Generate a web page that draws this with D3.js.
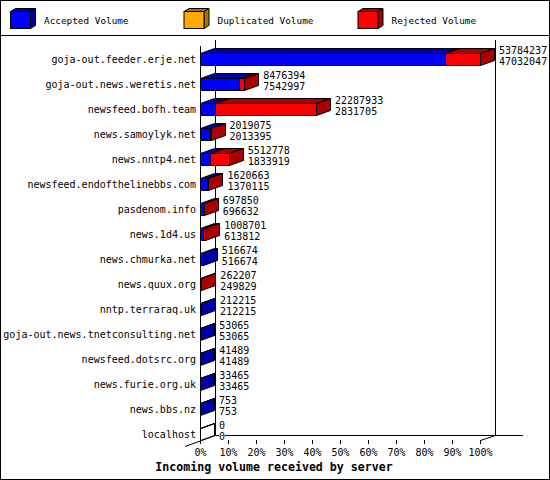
<!DOCTYPE html>
<html>
<head>
<meta charset="utf-8">
<script src="https://cdn.jsdelivr.net/npm/d3@7"></script>
<style>
  html, body { margin: 0; padding: 0; background: #fff; }
  svg { display: block; }
  text { font-family: "DejaVu Sans Mono", "Liberation Mono", monospace; fill: #000; }
</style>
</head>
<body>
<svg id="chart" width="550" height="480"></svg>
<script>
// ---- data ----
const categories = [
  "goja-out.feeder.erje.net",
  "goja-out.news.weretis.net",
  "newsfeed.bofh.team",
  "news.samoylyk.net",
  "news.nntp4.net",
  "newsfeed.endofthelinebbs.com",
  "pasdenom.info",
  "news.1d4.us",
  "news.chmurka.net",
  "news.quux.org",
  "nntp.terraraq.uk",
  "goja-out.news.tnetconsulting.net",
  "newsfeed.dotsrc.org",
  "news.furie.org.uk",
  "news.bbs.nz",
  "localhost"
];
const totalVolume = [53784237, 8476394, 22287933, 2019075, 5512778, 1620663, 697850, 1008701,
                     516674, 262207, 212215, 53065, 41489, 33465, 753, 0];
const acceptedVolume = [47032047, 7542997, 2831705, 2013395, 1833919, 1370115, 696632, 613812,
                        516674, 249829, 212215, 53065, 41489, 33465, 753, 0];
const duplicatedVolume = [0, 0, 0, 0, 0, 0, 0, 0, 0, 0, 0, 0, 0, 0, 0, 0];
const seriesNames = ["Accepted Volume", "Duplicated Volume", "Rejected Volume"];
const seriesColors = ["#0000ff", "#ffaa00", "#ff0000"];
const seriesDark = ["#0000aa", "#aa7200", "#aa0000"];
const percentTicks = [0, 10, 20, 30, 40, 50, 60, 70, 80, 90, 100];
const chartTitle = "Incoming volume received by server";

// ---- layout ----
const svg = d3.select("#chart");
const FX0 = 200, FX1 = 480;        // front axis extent
const FY0 = 41, FY1 = 441;         // front plot vertical extent
const WDX = 15, WDY = 6;           // wall depth offset
const BDX = 14, BDY = 5;           // bar depth offset

const maxTotal = d3.max(totalVolume);
const xVal = d3.scaleLinear().domain([0, maxTotal]).range([FX0, FX1]);
const xPct = d3.scaleLinear().domain([0, 100]).range([FX0, FX1]);
const y = d3.scaleBand().domain(categories).range([FY0, FY1]);

// frame
svg.append("rect").attr("x", 0.5).attr("y", 0.5).attr("width", 549).attr("height", 479)
  .attr("fill", "#fff").attr("stroke", "#000");
svg.append("line").attr("x1", 0).attr("x2", 550).attr("y1", 35.5).attr("y2", 35.5).attr("stroke", "#000");

// legend
const legX = [10, 183.5, 357.5];
seriesNames.forEach((name, i) => {
  const g = svg.append("g").attr("transform", `translate(${legX[i]},0)`);
  const x0 = 0.5, x1 = 20.5, y0 = 11.5, y1 = 28.5, dx = 5, dy = 3;
  g.append("polygon").attr("points", [[x0, y0], [x1, y0], [x1 + dx, y0 - dy], [x0 + dx, y0 - dy]].join(" "))
    .attr("fill", seriesDark[i]).attr("stroke", "#000");
  g.append("polygon").attr("points", [[x1, y0], [x1 + dx, y0 - dy], [x1 + dx, y1 - dy], [x1, y1]].join(" "))
    .attr("fill", seriesDark[i]).attr("stroke", "#000");
  g.append("rect").attr("x", x0).attr("y", y0).attr("width", x1 - x0).attr("height", y1 - y0)
    .attr("fill", seriesColors[i]).attr("stroke", "#000");
  g.append("text").attr("x", 34).attr("y", 23.5).attr("font-size", "9.4px").text(name);
});

// walls / floor
const walls = svg.append("g").attr("stroke", "#000").attr("fill", "none").attr("shape-rendering", "crispEdges");
walls.append("line").attr("x1", FX0 + 0.5).attr("x2", FX0 + 0.5).attr("y1", FY0 + 5).attr("y2", FY1);
walls.append("line").attr("x1", FX0 + WDX + 0.5).attr("x2", FX0 + WDX + 0.5).attr("y1", FY0 - 1).attr("y2", FY1 - WDY);
walls.append("line").attr("x1", FX1 + WDX + 0.5).attr("x2", FX1 + WDX + 0.5).attr("y1", FY0 - 1).attr("y2", FY1 - WDY);
walls.append("line").attr("x1", FX0 + WDX).attr("x2", 523).attr("y1", FY1 - WDY + 0.5).attr("y2", FY1 - WDY + 0.5);
const diag = svg.append("g").attr("stroke", "#000").attr("fill", "none");
diag.append("line").attr("x1", FX0 - WDX).attr("y1", FY1 + WDY - 0.5).attr("x2", FX0 + WDX + 0.5).attr("y2", FY1 - WDY + 0.5);
diag.append("line").attr("x1", FX1 + 0.5).attr("y1", FY1 - 0.5).attr("x2", FX1 + WDX + 0.5).attr("y2", FY1 - WDY + 0.5);

// bars
const bars = svg.append("g").attr("stroke", "#000").attr("stroke-width", 1);
categories.forEach((c, i) => {
  const rejected = totalVolume[i] - acceptedVolume[i] - duplicatedVolume[i];
  const vals = [acceptedVolume[i], duplicatedVolume[i], rejected];
  const yt = y(c) + 12.5, yb = y(c) + 24.5;
  let cum = 0, lastIdx = -1;
  const segs = [];
  vals.forEach((v, s) => {
    if (v > 0) { segs.push({ s, a: cum, b: cum + v }); lastIdx = s; }
    cum += v;
  });
  const g = bars.append("g");
  segs.forEach(seg => {
    const x0 = Math.round(xVal(seg.a)) + 0.5, x1 = Math.round(xVal(seg.b)) + 0.5;
    g.append("polygon").attr("points", [[x0, yt], [x1, yt], [x1 + BDX, yt - BDY], [x0 + BDX, yt - BDY]].join(" "))
      .attr("fill", seriesDark[seg.s]);
  });
  segs.forEach(seg => {
    const x0 = Math.round(xVal(seg.a)) + 0.5, x1 = Math.round(xVal(seg.b)) + 0.5;
    g.append("rect").attr("x", x0).attr("y", yt).attr("width", x1 - x0).attr("height", yb - yt)
      .attr("fill", seriesColors[seg.s]);
  });
  const xe = Math.round(xVal(totalVolume[i])) + 0.5;
  g.append("polygon").attr("points", [[xe, yt], [xe + BDX, yt - BDY], [xe + BDX, yb - BDY], [xe, yb]].join(" "))
    .attr("fill", lastIdx >= 0 ? seriesDark[lastIdx] : "#fff");
  if (segs.length === 0) {
    g.append("polygon").attr("points", [[xe, yt], [xe + BDX, yt - BDY]].join(" ")).attr("fill", "none");
  }

  // value labels
  const lx = xVal(totalVolume[i]) + BDX + 5;
  [[totalVolume[i], y(c) + 9], [acceptedVolume[i], y(c) + 20.5]].forEach(([v, cy]) => {
    const t = svg.append("text").attr("x", lx).attr("y", cy).attr("dy", "0.36em")
      .attr("font-size", "10px").text(v);
    const bb = t.node().getBBox();
    svg.insert("rect", () => t.node()).attr("x", bb.x).attr("y", cy - 4).attr("width", bb.width)
      .attr("height", 8).attr("fill", "#fff");
  });
});

// category labels
svg.append("g").selectAll("text").data(categories).join("text")
  .attr("x", 196).attr("y", d => y(d) + 18.5).attr("dy", "0.36em")
  .attr("text-anchor", "end").attr("font-size", "10px").text(d => d);

// x axis (percent)
const axis = d3.axisBottom(xPct).tickValues(percentTicks).tickFormat(d => d + "%").tickSize(4);
const ax = svg.append("g").attr("transform", `translate(0,${FY1 - 1})`).call(axis);
ax.select(".domain").remove();
ax.selectAll(".tick line").attr("stroke", "#000").attr("shape-rendering", "crispEdges");
ax.selectAll(".tick text").attr("y", 16).attr("dy", null)
  .attr("font-family", "DejaVu Sans Mono").attr("font-size", "10px").attr("fill", "#000");

// title
svg.append("text").attr("x", 274).attr("y", 471).attr("text-anchor", "middle")
  .attr("font-size", "11.6px").attr("font-weight", "bold").text(chartTitle);
</script>
</body>
</html>
